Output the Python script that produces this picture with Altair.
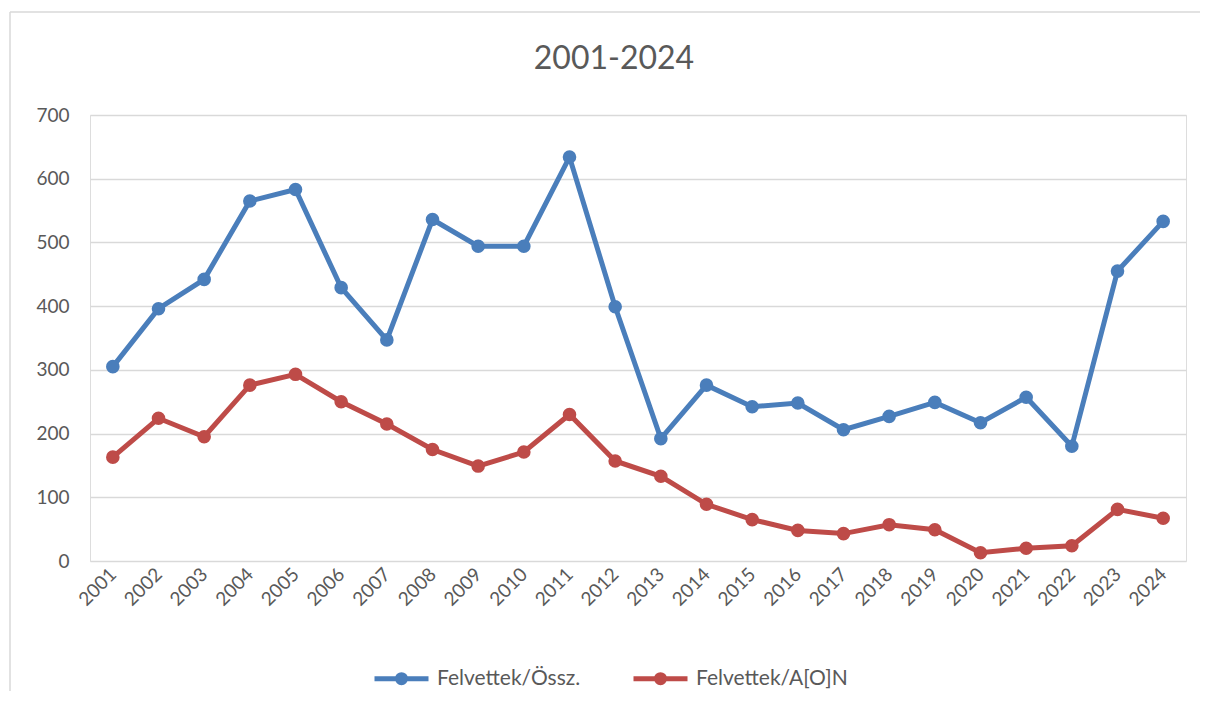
import altair as alt
import pandas as pd

years = ["2001", "2002", "2003", "2004", "2005", "2006", "2007", "2008",
         "2009", "2010", "2011", "2012", "2013", "2014", "2015", "2016",
         "2017", "2018", "2019", "2020", "2021", "2022", "2023", "2024"]
ossz = [305, 396, 442, 565, 583, 429, 347, 536, 494, 494, 634, 399,
        192, 276, 242, 248, 206, 227, 249, 217, 257, 180, 455, 533]
aon = [163, 224, 195, 276, 293, 250, 215, 175, 149, 171, 230, 157,
       133, 89, 65, 48, 43, 57, 49, 13, 20, 24, 81, 67]
series_names = ["Felvettek/Össz.", "Felvettek/A[O]N"]
series_colors = ["#4A7EBB", "#BE4B48"]

rows = []
for name, vals in zip(series_names, [ossz, aon]):
    for y, v in zip(years, vals):
        rows.append({"year": y, "value": v, "series": name})
df = pd.DataFrame(rows)

FONT = "Lato"
TXT = "#595959"
GRID = "#D9D9D9"

legend = alt.Legend(
    title=None,
    orient="none",
    legendX=282,
    legendY=534,
    direction="horizontal",
    symbolType="M-1,0H1M-0.15,0A0.15,0.15,0,1,1,0.15,0A0.15,0.15,0,1,1,-0.15,0Z",
    symbolSize=2916,
    symbolStrokeWidth=5,
    labelFont=FONT,
    labelFontSize=21,
    labelColor=TXT,
    labelOffset=6,
    columnPadding=42,
    labelLimit=300,
)
cscale = alt.Scale(domain=series_names, range=series_colors)

x = alt.X(
    "year:O",
    sort=years,
    title=None,
    scale=alt.Scale(type="point", padding=0.5),
    axis=alt.Axis(
        labelAngle=-45,
        labelAlign="right",
        labelBaseline="middle",
        labelFont=FONT,
        labelFontSize=19,
        labelColor=TXT,
        labelPadding=10,
        ticks=False,
        domain=False,
        grid=False,
    ),
)
y = alt.Y(
    "value:Q",
    title=None,
    scale=alt.Scale(domain=[0, 700], nice=False),
    axis=alt.Axis(
        values=[0, 100, 200, 300, 400, 500, 600, 700],
        labelFont=FONT,
        labelFontSize=19,
        labelColor=TXT,
        labelPadding=21,
        ticks=False,
        domain=False,
        grid=True,
        gridColor=GRID,
        gridWidth=1.5,
    ),
)

base = alt.Chart(df)
lines = base.mark_line(strokeWidth=5).encode(
    x=x, y=y, stroke=alt.Stroke("series:N", scale=cscale, legend=legend)
)
points = base.mark_point(filled=True, size=185, opacity=1).encode(
    x=x, y=y, fill=alt.Fill("series:N", scale=cscale, legend=legend)
)

frame_src = pd.DataFrame({"a": [0]})
border_top = alt.Chart(frame_src).mark_rule(stroke=GRID, strokeWidth=1.5).encode(
    x=alt.value(-80), x2=alt.value(1200), y=alt.value(-103)
)
border_left = alt.Chart(frame_src).mark_rule(stroke=GRID, strokeWidth=1.5).encode(
    x=alt.value(-80), y=alt.value(-103), y2=alt.value(800)
)

chart = alt.layer(border_top, border_left, lines, points).properties(
    width=1096,
    height=446,
    title=alt.TitleParams(
        "2001-2024",
        font=FONT,
        fontSize=32,
        fontWeight="normal",
        color=TXT,
        anchor="middle",
        frame="group",
        dx=-24,
        offset=-65,
    ),
    autosize=alt.AutoSizeParams(type="none"),
    padding={"left": 82, "top": 107, "right": 14, "bottom": 130},
).configure_view(stroke=None).configure(background="white")

chart.save("out.html", embed_options={"renderer": "svg", "actions": False})
